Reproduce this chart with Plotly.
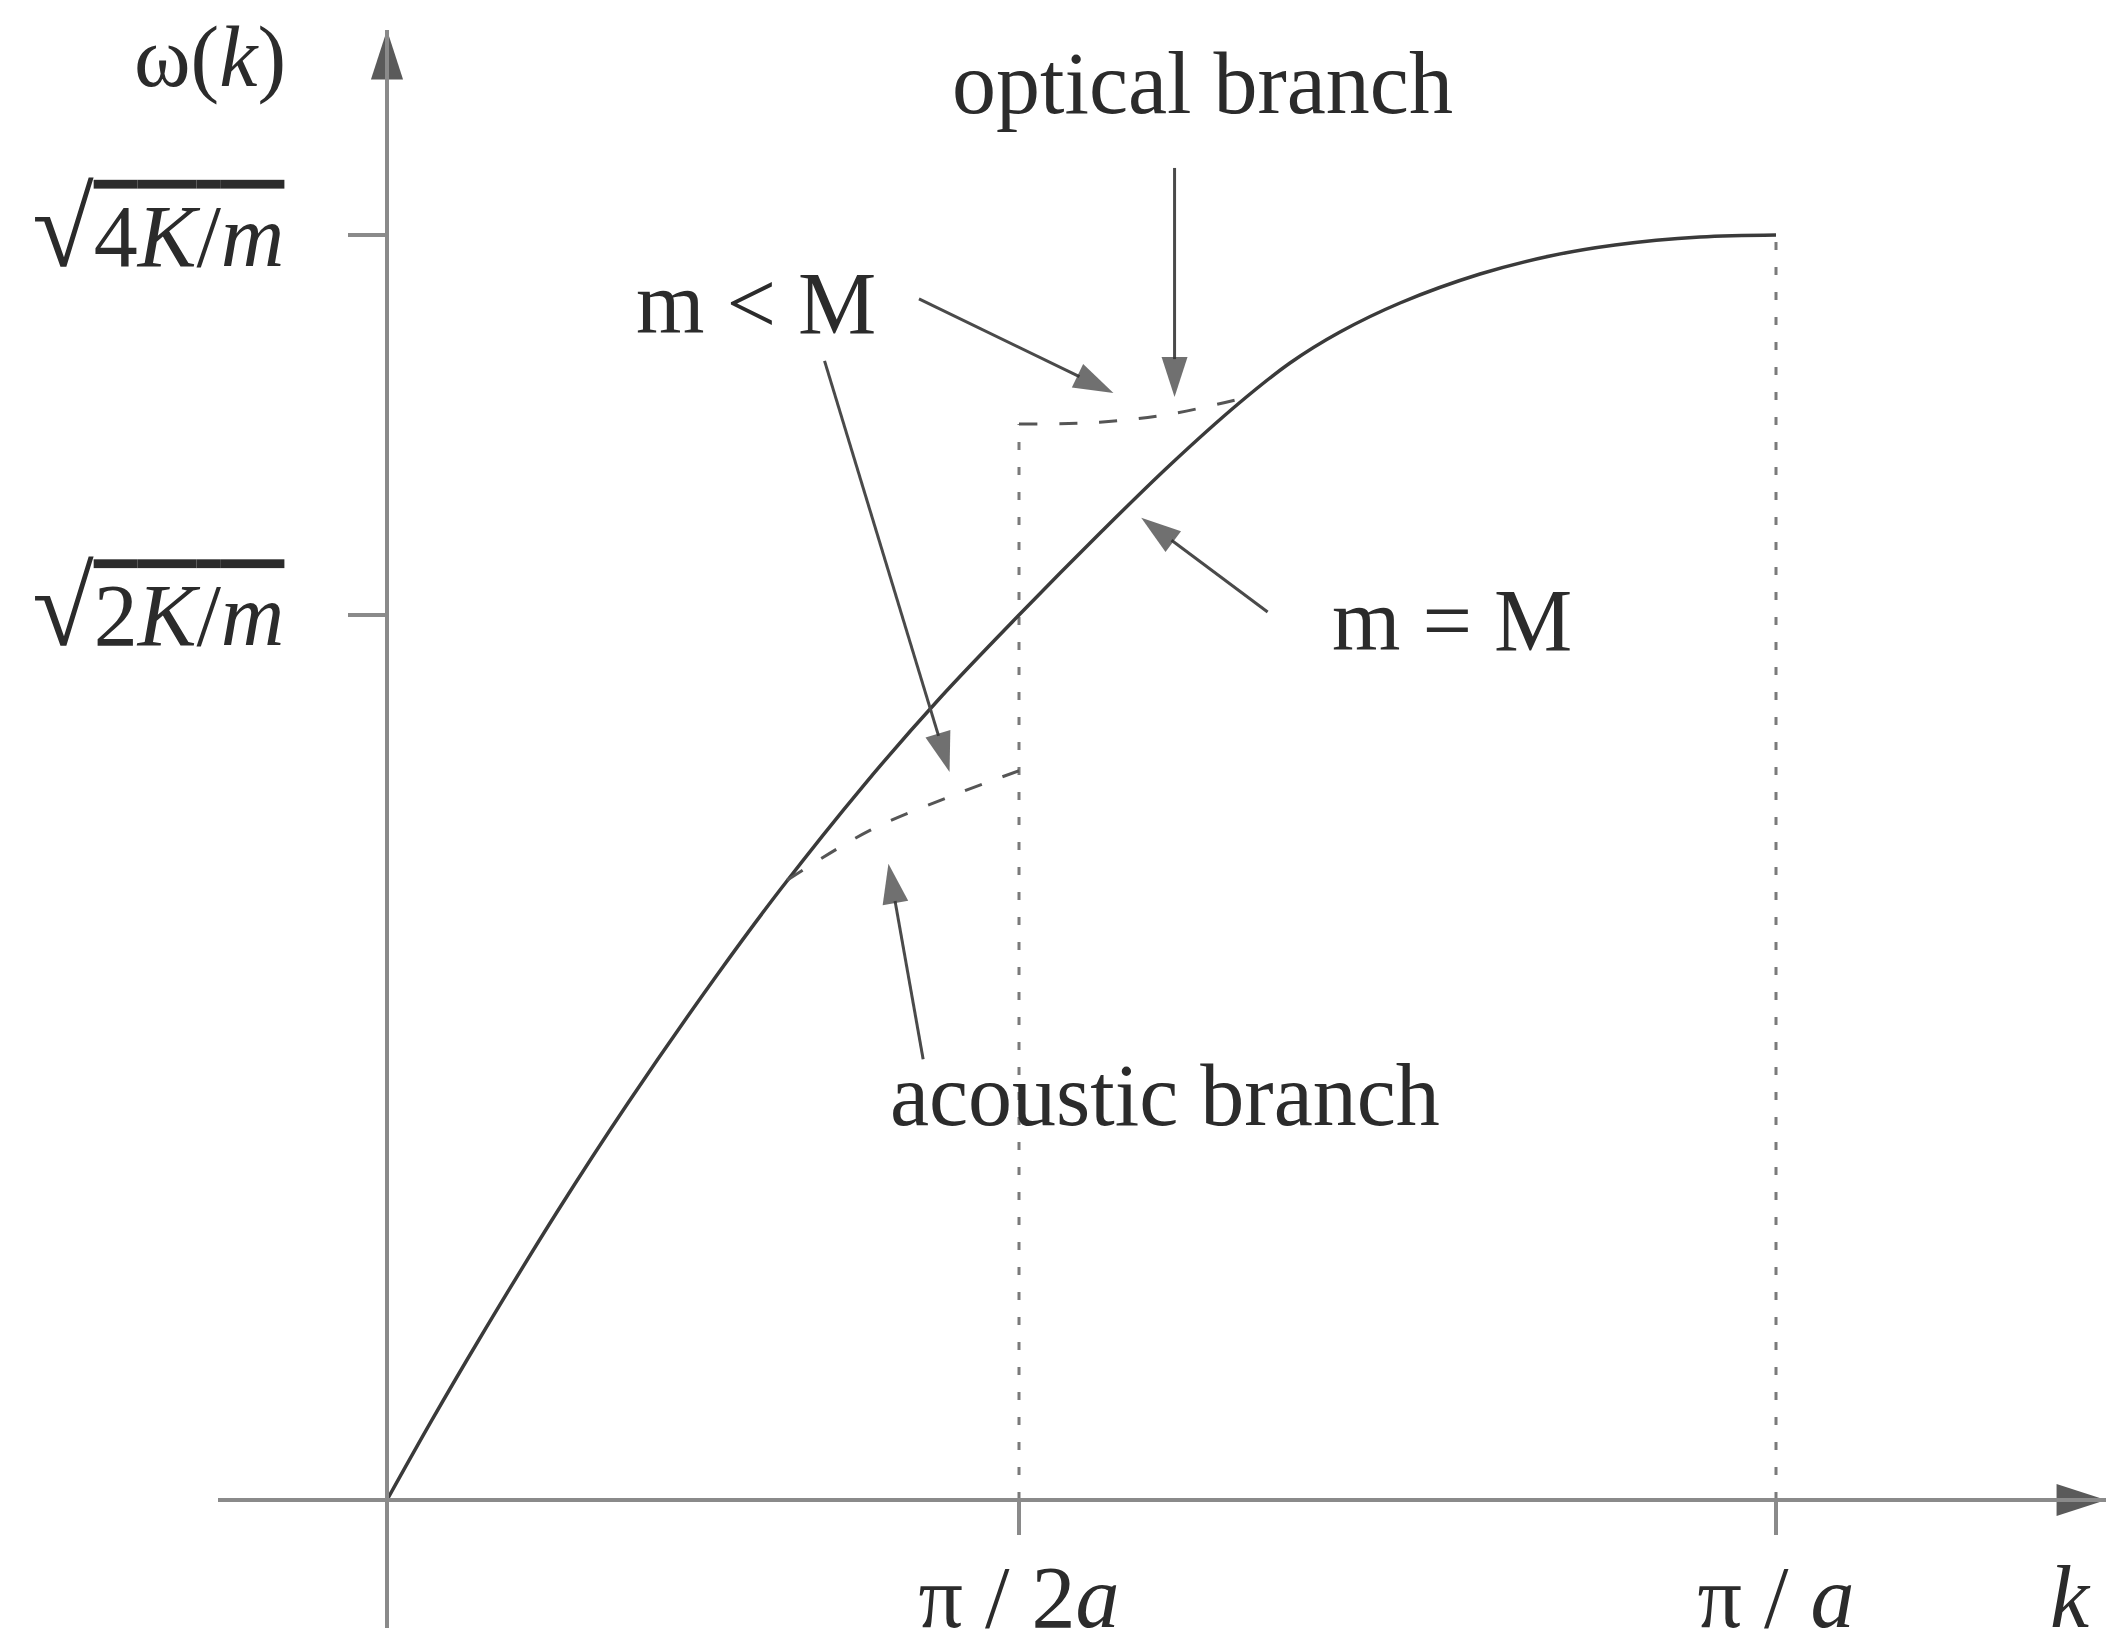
import plotly.graph_objects as go

# Dispersion relation for a diatomic chain: k in units of pi/a, omega in units of sqrt(K/m)
k_curve = [0, 0.0324, 0.0648, 0.1224, 0.1735, 0.2376, 0.2829, 0.3434, 0.3981,
           0.4550, 0.5148, 0.5637, 0.6127, 0.6501, 0.6861, 0.7293, 0.7869,
           0.8373, 0.8841, 0.9453, 1.0]
w_curve = [0, 0.1265, 0.2482, 0.4553, 0.6277, 0.8300, 0.9644, 1.1304, 1.2680,
           1.3992, 1.5320, 1.6364, 1.7328, 1.7976, 1.8466, 1.8925, 1.9383,
           1.9668, 1.9842, 1.9968, 2.0]

# m < M: acoustic and optical branches near the reduced zone boundary
k_acoustic = [0.288, 0.348, 0.405, 0.455]
w_acoustic = [0.980, 1.059, 1.112, 1.153]
k_optical = [0.455, 0.513, 0.564, 0.618]
w_optical = [1.701, 1.704, 1.717, 1.743]

# axis ticks
k_tick_vals = [0.455, 1.0]
k_tick_text = ["π / 2<i>a</i>", "π / <i>a</i>"]
w_tick_vals = [1.40, 2.0]
ROOT = '<span style="font-size:112px">√</span>'
BAR = ('<span style="text-decoration:overline;text-decoration-thickness:3px;'
       'text-decoration-color:#3a3a3a">')
w_tick_text = [
    ROOT + BAR + "2<i>K</i>/<i>m</i></span>",
    ROOT + BAR + "4<i>K</i>/<i>m</i></span>",
]

# pointer arrows (tail -> head)
arrow_tail_k = [0.383, 0.315, 0.567, 0.634, 0.386]
arrow_tail_w = [1.899, 1.801, 2.106, 1.404, 0.697]
arrow_head_k = [0.523, 0.405, 0.567, 0.543, 0.361]
arrow_head_w = [1.750, 1.151, 1.744, 1.553, 1.006]

# text labels
label_text = ["optical branch", "m < M", "m = M", "acoustic branch"]
label_k = [0.587, 0.266, 0.767, 0.560]
label_w = [2.240, 1.891, 1.390, 0.639]

W, H = 2110, 1647
FONT = "Liberation Serif"
TXT = "#2b2b2b"
AXIS = "#8a8a8a"
INK = "#3a3a3a"

x_range = [-0.12167, 1.23758]
y_range = [-0.20237, 2.32411]

fig = go.Figure()

# zone-boundary guides
tops = [w_optical[0], w_curve[-1]]
for kt, top in zip(k_tick_vals, tops):
    fig.add_trace(go.Scatter(
        x=[kt, kt], y=[0, top], mode="lines",
        line=dict(color="#7a7a7a", width=3, dash="8px,17px"),
        hoverinfo="skip"))

# m = M curve
fig.add_trace(go.Scatter(
    x=k_curve, y=w_curve, mode="lines",
    line=dict(color=INK, width=3.5, shape="spline", smoothing=1.0),
    hoverinfo="skip"))

# m < M branches
for kk, ww in [(k_acoustic, w_acoustic), (k_optical, w_optical)]:
    fig.add_trace(go.Scatter(
        x=kk, y=ww, mode="lines",
        line=dict(color="#555555", width=3, dash="18px,22px", shape="spline"),
        hoverinfo="skip"))

# pointer arrows
for tk, tw, hk, hw in zip(arrow_tail_k, arrow_tail_w, arrow_head_k, arrow_head_w):
    fig.add_trace(go.Scatter(
        x=[tk, hk], y=[tw, hw], mode="lines+markers",
        line=dict(color="#4a4a4a", width=3),
        marker=dict(symbol="arrow", size=[0, 42], angleref="previous",
                    color="#333333", line=dict(width=0)),
        cliponaxis=False, hoverinfo="skip"))

# axis arrowheads
fig.add_trace(go.Scatter(
    x=[0, x_range[1]], y=[y_range[1], 0], mode="markers",
    marker=dict(symbol="arrow", size=52, angle=[0, 90], color="#5a5a5a",
                line=dict(width=0)),
    cliponaxis=False, hoverinfo="skip"))

for t, kx, wy in zip(label_text, label_k, label_w):
    fig.add_annotation(x=kx, y=wy, text=t, showarrow=False,
                       font=dict(family=FONT, size=88, color=TXT),
                       xanchor="center", yanchor="middle")

# axis titles
fig.add_annotation(x=2070 / W, y=0.0, xref="paper", yref="paper",
                   text="<i>k</i>", showarrow=False,
                   font=dict(family=FONT, size=88, color=TXT),
                   xanchor="center", yanchor="bottom", borderpad=0)
fig.add_annotation(x=210 / W, y=1 - 57 / H, xref="paper", yref="paper",
                   text="ω(<i>k</i>)", showarrow=False,
                   font=dict(family=FONT, size=86, color=TXT),
                   xanchor="center", yanchor="middle")

fig.update_layout(
    width=W, height=H,
    margin=dict(l=0, r=0, t=0, b=0, pad=0),
    paper_bgcolor="white", plot_bgcolor="white",
    showlegend=False,
    xaxis=dict(
        domain=[218 / W, 2106 / W], range=x_range, automargin=False,
        anchor="free", position=(H - 1500) / H,
        showline=True, linecolor=AXIS, linewidth=4,
        showgrid=False, zeroline=False,
        ticks="outside", ticklen=33, tickwidth=4, tickcolor=AXIS,
        tickvals=k_tick_vals, ticktext=k_tick_text,
        tickfont=dict(family=FONT, size=88, color=TXT),
        ticklabelstandoff=-14,
    ),
    yaxis=dict(
        domain=[(H - 1628) / H, (H - 30) / H], range=y_range, automargin=False,
        anchor="free", position=387 / W,
        showline=True, linecolor=AXIS, linewidth=4,
        showgrid=False, zeroline=False,
        ticks="outside", ticklen=37, tickwidth=4, tickcolor=AXIS,
        tickvals=w_tick_vals, ticktext=w_tick_text,
        tickfont=dict(family=FONT, size=88, color=TXT),
        ticklabelstandoff=46,
    ),
)

fig.write_html("out.html")
